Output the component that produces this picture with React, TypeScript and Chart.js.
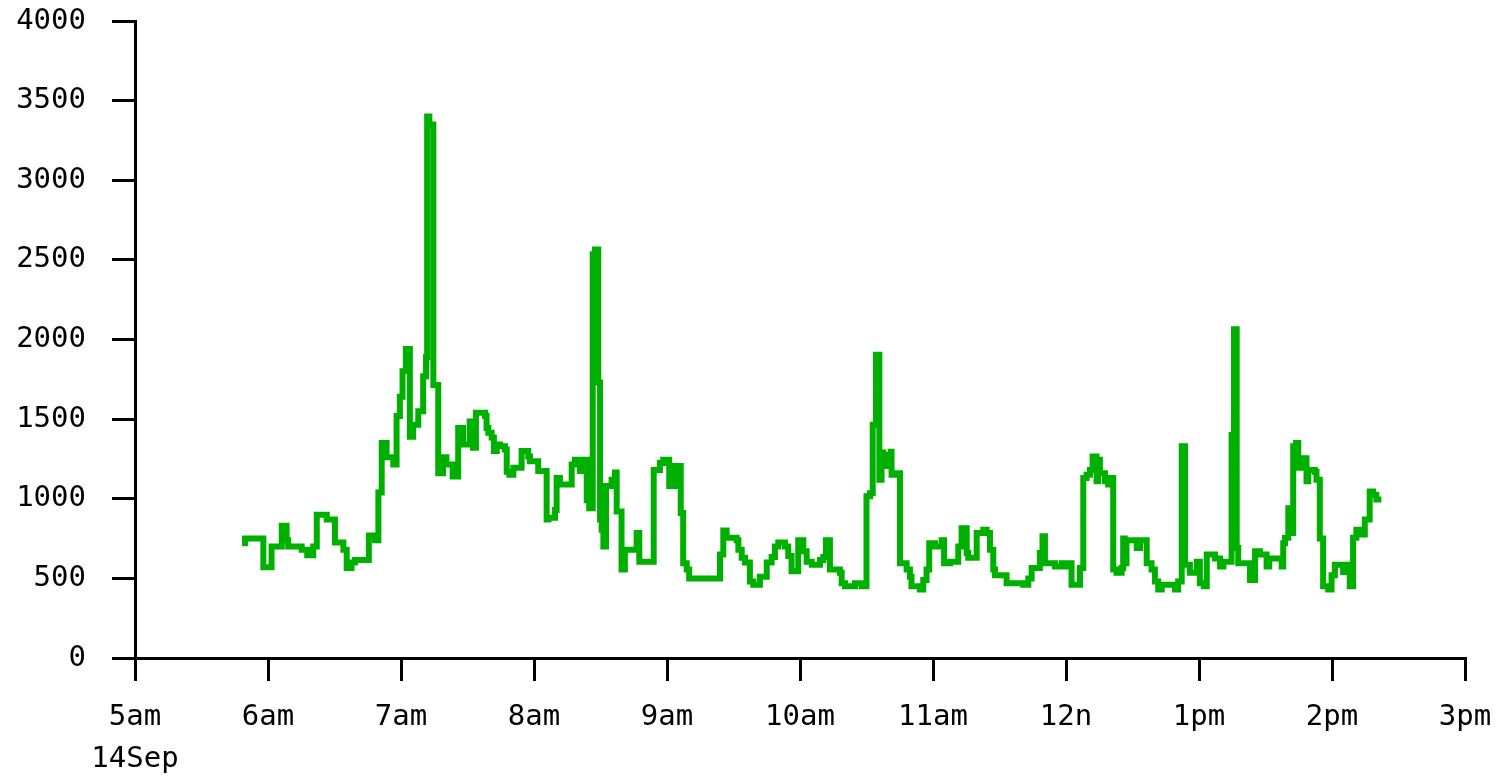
import React, { useEffect, useRef } from "react";
import { Chart, registerables } from "chart.js";

Chart.register(...registerables);

// Sample times in minutes after 05:00 on 14 Sep, and the value that starts at each sample
const sampleMinutes = [
  48.3, 49.6, 57.9, 61.6, 66.2, 68.4, 69.1, 75.2, 77.7, 80.4, 82, 86.5, 90.2, 94, 95.5, 97.7, 99.2,
  105.5, 108.3, 109.8, 111.3, 113.5, 116.5, 118, 119.5, 120.7, 122.2, 124, 125.5, 127.8, 130, 131.3,
  131.8, 132.8, 134.6, 136.8, 139, 140.5, 143.3, 145.8, 148, 151, 152.5, 153.8, 157.9, 158.6, 159.4,
  160.9, 161.9, 163.2, 164.7, 166.9, 167.7, 168.9, 170.7, 174.4, 177.4, 178.2, 181.9, 185.7, 186.5,
  189.5, 190.2, 191.7, 197, 198.5, 200.7, 202.5, 203.8, 204.9, 206.5, 207.5, 209, 209.8, 210.5, 211.3,
  212.5, 215, 216.5, 217.3, 219.5, 221, 226.3, 227.5, 234, 236.8, 238.3, 241, 243.6, 246.2, 247.3,
  248.9, 250, 263.9, 265.4, 266.9, 271.4, 272.2, 273.7, 275.2, 277.4, 278.9, 281.9, 285, 287.2, 288.7,
  290.2, 293.2, 294.7, 296.2, 299.2, 301.5, 303, 305.3, 309, 310.5, 311.7, 313.5, 318, 318.8, 320.3,
  324.8, 327.8, 330, 331.6, 332.8, 334.3, 335.8, 336.8, 337.6, 339.1, 340.9, 341.3, 343.6, 345.1,
  348.1, 349.6, 350.3, 354.1, 355.6, 357.1, 358.3, 360.9, 363.9, 365, 367.7, 371.4, 372.9, 375.2,
  375.9, 379.7, 382.7, 384.2, 385.7, 387.2, 388, 393.2, 400.7, 403, 404.5, 408.2, 409.4, 410.5, 415,
  418, 419.5, 421.8, 422.5, 426.3, 427.8, 429.3, 430.8, 432, 433.8, 434.5, 435.3, 437.6, 439, 439.8,
  441.3, 442.8, 445.1, 445.8, 446.5, 447.3, 451.9, 453.4, 456.4, 458.6, 460.1, 461.6, 463.2, 469.2,
  470.6, 472.2, 473.7, 475.9, 479, 480.4, 482.2, 483.5, 487.2, 489.5, 491, 494.7, 495.8, 497, 497.7,
  503, 505.3, 507.5, 510.5, 511.7, 517.3, 518, 518.8, 520.3, 521.8, 522.5, 523.8, 524.8, 526.3, 528.5,
  529.3, 532.3, 533, 534.5, 536, 538.3, 539.8, 541.3, 545, 546.5, 548, 549.5, 551, 552.5, 554.8, 557,
  558.5, 560, 562.3,
];

const sampleValues = [
  720, 750, 570, 700, 830, 740, 700, 680, 645, 700, 900, 870, 725, 680, 565, 600, 615,
  770, 740, 1040, 1350, 1260, 1215, 1520, 1640, 1800, 1940, 1390, 1465, 1550, 1770, 1890,
  3400, 3350, 1715, 1160, 1260, 1215, 1140, 1445, 1340, 1485, 1320, 1540, 1520, 1445, 1415,
  1385, 1300, 1340, 1330, 1310, 1170, 1150, 1195, 1300, 1265, 1235, 1175, 870, 880,
  930, 1130, 1090, 1215, 1245, 1175, 1245, 990, 940, 2535, 2565, 1730, 870, 805, 700,
  1080, 1120, 1165, 920, 555, 680, 785, 605, 1180, 1225, 1245, 1080, 1205, 910, 595,
  555, 500, 650, 800, 755, 740, 680, 630, 600, 480, 460, 510, 600, 635, 700,
  725, 700, 640, 545, 740, 670, 605, 585, 615, 635, 740, 555, 535, 470, 450,
  470, 450, 1015, 1035, 1465, 1905, 1120, 1290, 1205, 1275, 1295, 1150, 1160, 595,
  555, 510, 450, 430, 490, 555, 720, 700, 740, 595, 605, 700, 815, 660,
  630, 785, 805, 785, 680, 555, 520, 470, 460, 500, 565, 660, 765, 595, 575,
  595, 575, 595, 460, 565, 1130, 1150, 1180, 1265, 1110, 1245, 1160, 1110, 1090, 1130,
  555, 535, 565, 750, 595, 740, 690, 740, 595, 555, 480, 430, 460, 430,
  480, 1330, 585, 535, 605, 470, 450, 650, 625, 575, 605, 1400, 2065, 690, 595,
  490, 670, 650, 575, 625, 575, 720, 755, 940, 785, 1330, 1350, 1195, 1255, 1110,
  1180, 1170, 1120, 750, 450, 430, 520, 585, 540, 585, 450, 755, 805, 775, 870, 1045,
  1025, 995, 995,
];

const hourTickLabels = ["5am", "6am", "7am", "8am", "9am", "10am", "11am", "12n", "1pm", "2pm", "3pm"];
const dateLabel = "14Sep";
const yTicks = [0, 500, 1000, 1500, 2000, 2500, 3000, 3500, 4000];

export default function App() {
  const ref = useRef<HTMLCanvasElement | null>(null);

  useEffect(() => {
    document.body.style.margin = "0";
    const canvas = ref.current;
    if (!canvas) return;
    const points = sampleMinutes.map((m, i) => ({ x: m, y: sampleValues[i] }));
    const font = { family: "'DejaVu Sans Mono', monospace", size: 29, lineHeight: 1.45 };
    const chart = new Chart(canvas, {
      type: "line",
      data: {
        datasets: [
          {
            data: points,
            stepped: true,
            borderColor: "#00b000",
            borderWidth: 6,
            pointRadius: 0,
            fill: false,
          },
        ],
      },
      options: {
        animation: false,
        responsive: false,
        devicePixelRatio: 1,
        layout: { padding: { top: 21, right: 38, left: 0, bottom: 0 } },
        plugins: { legend: { display: false }, tooltip: { enabled: false } },
        scales: {
          x: {
            type: "linear",
            min: 0,
            max: 600,
            afterFit: (s: any) => {
              s.height = 119;
              s.paddingLeft = 0;
              s.paddingRight = 0;
            },
            afterBuildTicks: (s: any) => {
              s.ticks = hourTickLabels.map((_, i) => ({ value: i * 60 }));
            },
            ticks: {
              color: "#000",
              font,
              padding: 15,
              maxRotation: 0,
              autoSkip: false,
              callback: (v: any) => {
                const i = Math.round(Number(v) / 60);
                return i === 0 ? [hourTickLabels[0], dateLabel] : hourTickLabels[i];
              },
            },
            grid: {
              display: true,
              drawOnChartArea: false,
              drawTicks: true,
              tickLength: 23,
              color: "#000",
              lineWidth: 3,
            },
            border: { display: true, color: "#000", width: 3 },
          },
          y: {
            type: "linear",
            min: 0,
            max: 4000,
            afterFit: (s: any) => {
              s.width = 135;
              s.paddingTop = 0;
              s.paddingBottom = 0;
            },
            afterBuildTicks: (s: any) => {
              s.ticks = yTicks.map((v) => ({ value: v }));
            },
            ticks: {
              color: "#000",
              font,
              padding: 26,
              callback: (v: any) => String(v),
            },
            grid: {
              display: true,
              drawOnChartArea: false,
              drawTicks: true,
              tickLength: 23,
              color: "#000",
              lineWidth: 3,
            },
            border: { display: true, color: "#000", width: 3 },
          },
        },
      },
    });
    return () => chart.destroy();
  }, []);

  return <canvas ref={ref} width={1503} height={777} style={{ display: "block" }} />;
}
